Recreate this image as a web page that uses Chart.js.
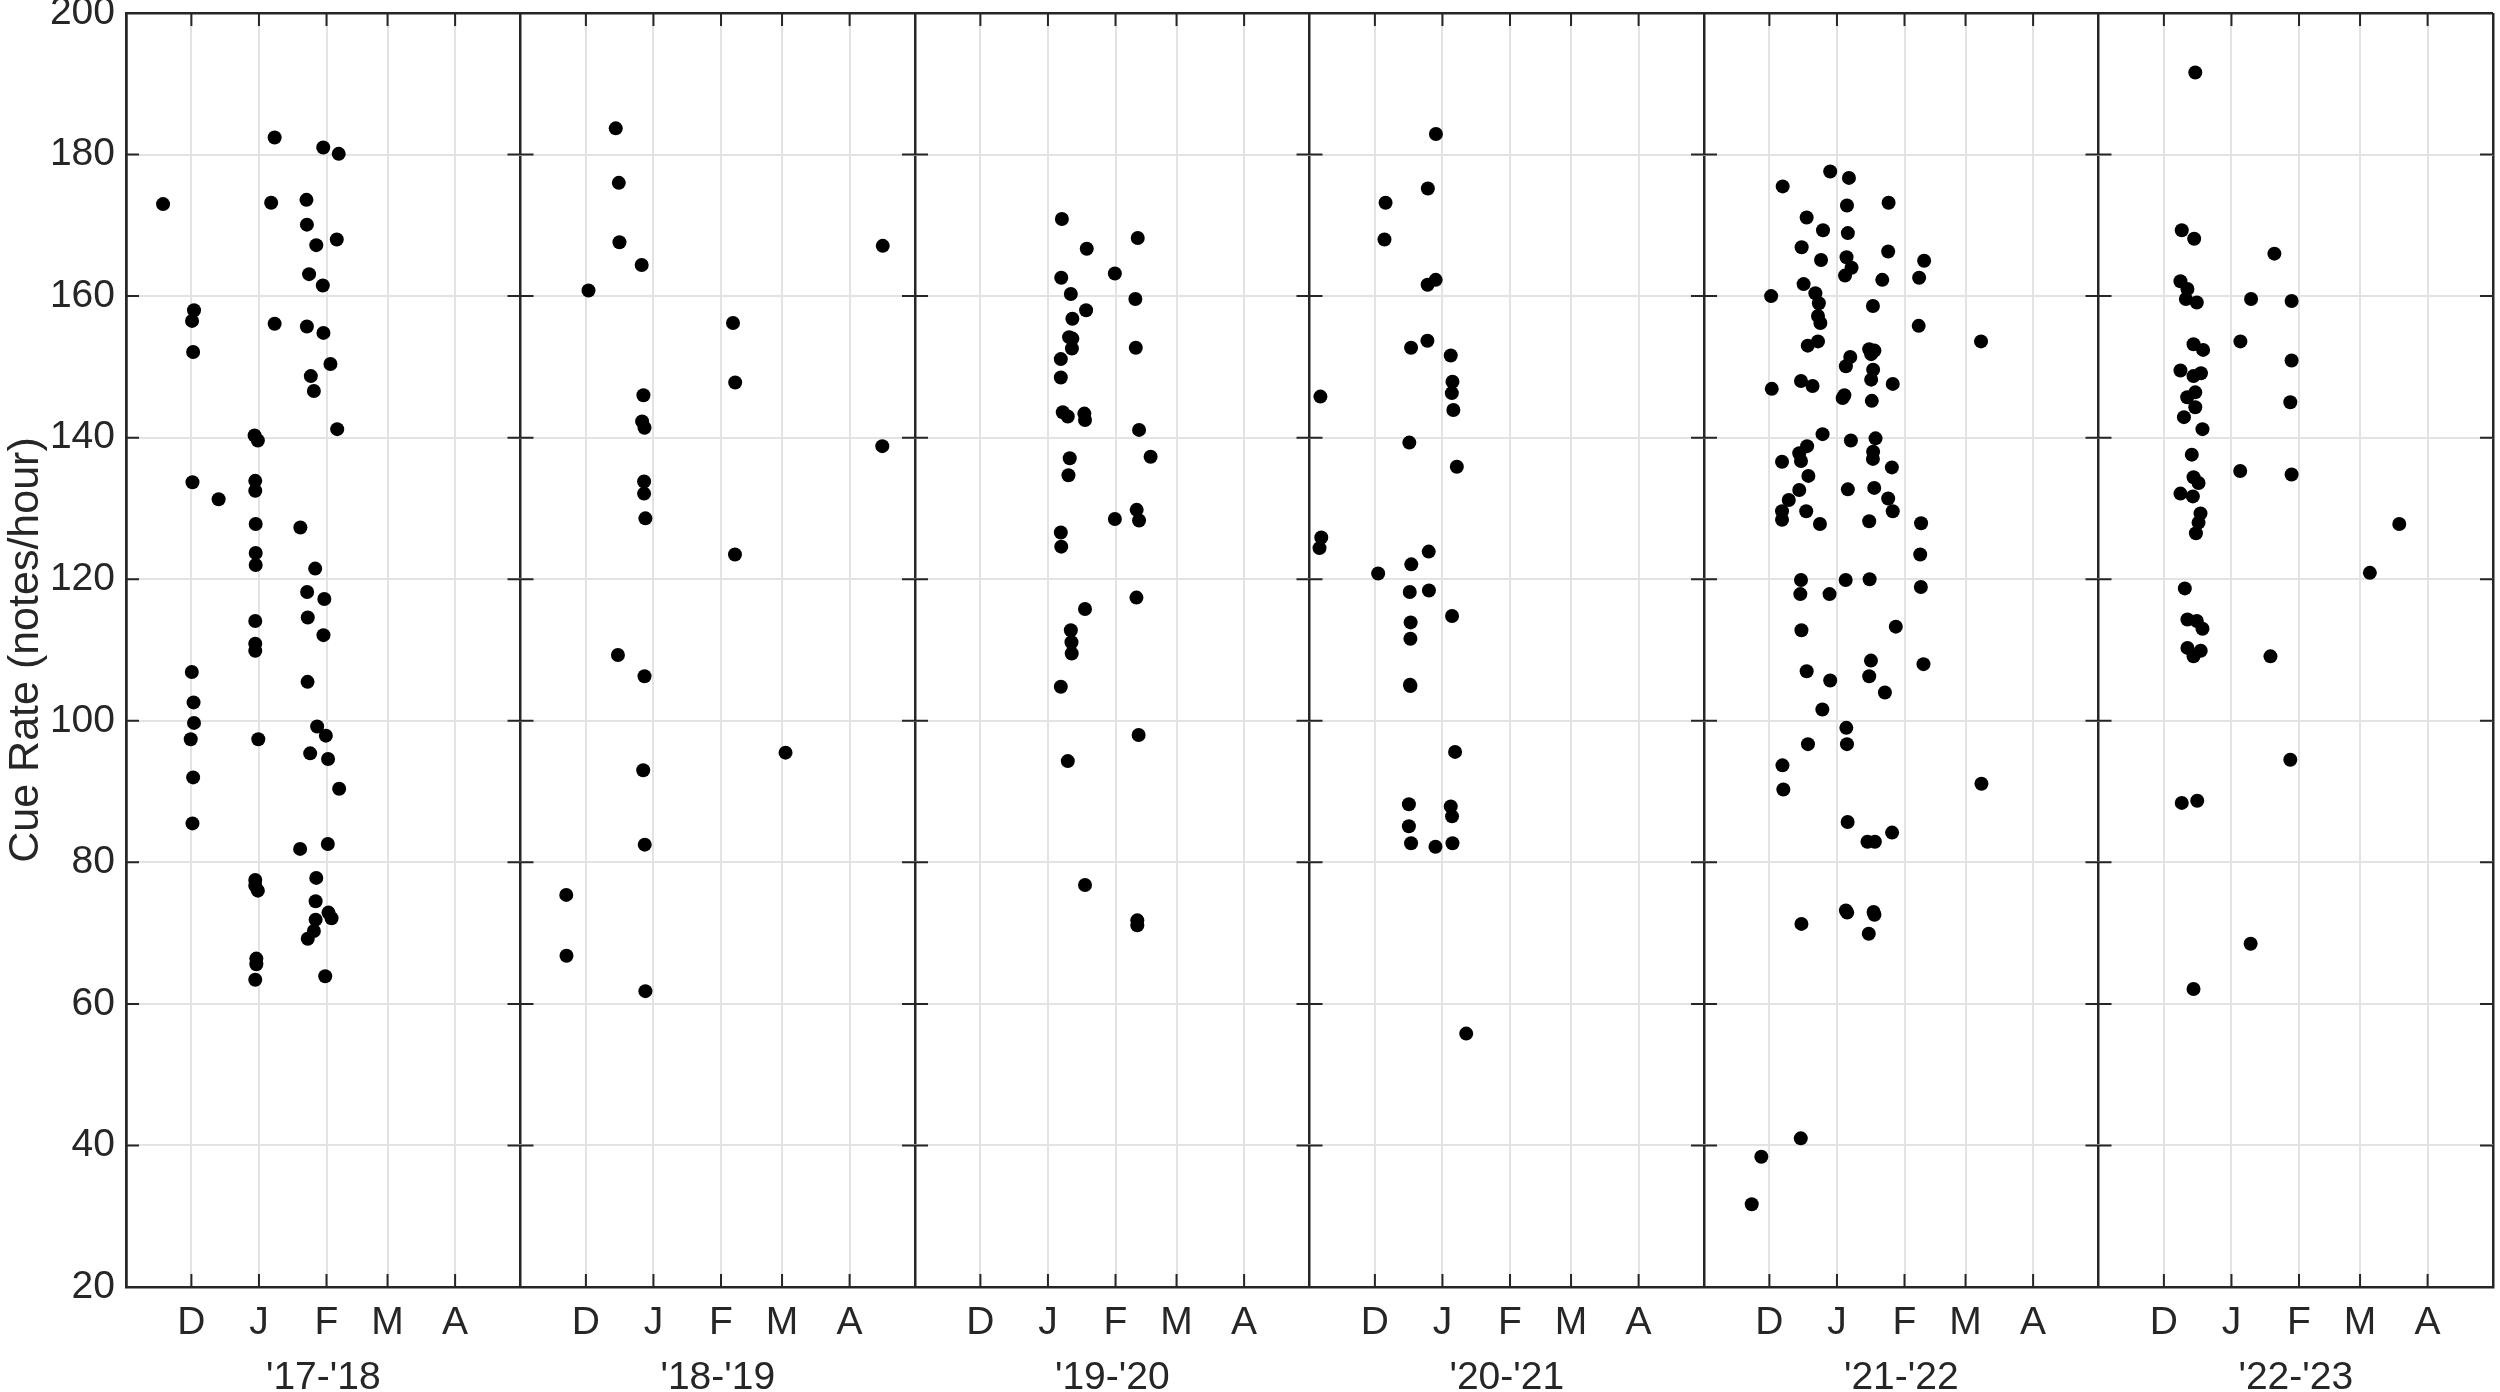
<!DOCTYPE html>
<html>
<head>
<meta charset="utf-8">
<script src="https://cdn.jsdelivr.net/npm/chart.js@4.4.1/dist/chart.umd.min.js"></script>
<style>
  html, body { margin: 0; padding: 0; background: #fff; }
  canvas { display: block; }
</style>
</head>
<body>
<canvas id="myChart" width="2500" height="1392"></canvas>
<script>
var seasons = ["'17-'18", "'18-'19", "'19-'20", "'20-'21", "'21-'22", "'22-'23"];
var monthDays = [30, 61, 92, 120, 151];
var monthLabels = ['D', 'J', 'F', 'M', 'A'];
var seasonLength = 181;
var yTicks = [20, 40, 60, 80, 100, 120, 140, 160, 180, 200];

// day of season (days since 1 Nov) and cue rate, one pair of arrays per season
var days1718 = [68.2, 90.5, 97.6, 17, 66.6, 82.8, 83, 87.3, 96.7, 84, 90.3, 31.2, 30.3, 30.8, 68.2, 83, 90.6, 93.8, 84.8, 86.2, 96.9, 59, 60.5, 30.5, 42.5, 59.3, 59.3, 59.5, 80, 59.5, 59.5, 86.8, 83.1, 91, 83.4, 90.6, 59.3, 59.3, 59.3, 30.2, 31, 31.2, 29.7, 60.7, 83.3, 87.7, 91.7, 84.5, 92.7, 97.8, 30.8, 30.5, 79.9, 92.6, 59.3, 59.3, 60.5, 87.3, 87, 92.9, 94.3, 87, 86.2, 83.4, 59.8, 59.8, 59.3, 91.4];
var rates1718 = [182.4, 181.0, 180.1, 173.0, 173.2, 173.6, 170.1, 167.2, 168.0, 163.1, 161.5, 158.0, 156.5, 152.1, 156.1, 155.7, 154.8, 150.4, 148.7, 146.6, 141.2, 140.3, 139.6, 133.7, 131.3, 133.9, 132.5, 127.8, 127.3, 123.7, 122.0, 121.5, 118.2, 117.2, 114.6, 112.1, 114.1, 110.9, 109.9, 106.9, 102.6, 99.7, 97.4, 97.4, 105.5, 99.2, 97.9, 95.4, 94.6, 90.4, 92.0, 85.5, 81.9, 82.6, 77.5, 76.7, 76.0, 77.8, 74.5, 72.9, 72.1, 71.9, 70.3, 69.2, 66.4, 65.6, 63.4, 63.9];

var days1819 = [43.7, 45.1, 45.4, 55.6, 31.2, 166.2, 97.5, 98.5, 56.4, 55.8, 56.9, 166, 56.7, 56.7, 57.3, 98.4, 44.7, 56.9, 121.6, 56.3, 57, 21, 21.1, 57.3];
var rates1819 = [183.7, 176.0, 167.6, 164.4, 160.8, 167.1, 156.2, 147.8, 146.0, 142.3, 141.4, 138.8, 133.8, 132.1, 128.6, 123.5, 109.3, 106.3, 95.5, 93.0, 82.5, 75.4, 66.8, 61.8];

var days1920 = [67.4, 78.8, 102.2, 91.7, 67.1, 71.5, 101.1, 78.5, 72.2, 70.7, 72.2, 72, 66.9, 101.3, 66.9, 67.8, 70.1, 77.7, 78, 102.8, 108.1, 71, 70.4, 91.7, 101.7, 102.8, 66.9, 67.1, 101.6, 78, 71.5, 71.8, 71.9, 66.9, 102.6, 70.1, 78, 102, 102];
var rates1920 = [170.9, 166.7, 168.2, 163.2, 162.6, 160.3, 159.6, 158.0, 156.8, 154.2, 154.0, 152.6, 151.1, 152.7, 148.5, 143.6, 143.0, 143.4, 142.5, 141.1, 137.3, 137.1, 134.7, 128.5, 129.8, 128.3, 126.6, 124.6, 117.4, 115.8, 112.8, 111.1, 109.5, 104.8, 98.0, 94.3, 76.8, 71.8, 71.1];

var days2021 = [58, 54.3, 34.9, 34.4, 54.2, 57.9, 46.6, 54.1, 64.8, 65.6, 65.3, 66, 5, 45.8, 67.6, 5.4, 4.6, 54.7, 46.7, 31.5, 46, 54.8, 65.4, 46.4, 46.3, 46.1, 46.3, 66.8, 45.6, 64.8, 65.4, 45.6, 46.6, 57.8, 65.6, 71.9];
var rates2021 = [182.9, 175.2, 173.2, 168.0, 161.6, 162.3, 152.7, 153.7, 151.6, 147.9, 146.3, 143.9, 145.8, 139.3, 135.9, 125.9, 124.4, 123.9, 122.1, 120.8, 118.2, 118.4, 114.8, 113.9, 111.6, 105.1, 104.9, 95.6, 88.2, 87.9, 86.5, 85.1, 82.7, 82.2, 82.7, 55.8];

var days2122 = [57.9, 66.5, 36.1, 65.6, 84.7, 47.1, 54.6, 66, 44.8, 53.7, 65.4, 67.7, 64.7, 84.5, 101, 98.7, 81.8, 45.7, 30.8, 51.1, 52.7, 52.3, 53.4, 77.5, 98.5, 127.1, 47.6, 52.3, 75.8, 78.2, 76.7, 67.1, 65.1, 77.6, 76.7, 86.6, 44.5, 49.8, 31.1, 64.4, 63.6, 77, 54.4, 67.4, 78.7, 77.6, 77.5, 86.2, 47.3, 43.7, 44.5, 35.8, 47.9, 43.7, 66, 78.1, 84.5, 86.6, 38.9, 35.8, 35.8, 46.9, 53.2, 75.8, 99.6, 99.2, 44.5, 44.2, 65, 76, 57.6, 99.5, 44.7, 88, 76.6, 75.8, 100.7, 47.1, 57.9, 83, 54.3, 65.3, 65.6, 47.7, 36, 36.4, 127.3, 65.9, 86.3, 75, 78.4, 44.7, 65.1, 65.7, 77.8, 78.2, 75.6, 44.4, 26.3, 21.9];
var rates2122 = [177.6, 176.7, 175.5, 172.8, 173.2, 171.1, 169.3, 168.9, 166.9, 165.1, 165.5, 164.0, 162.9, 166.3, 165.0, 162.6, 162.3, 161.7, 160.0, 160.4, 159.0, 157.2, 156.2, 158.6, 155.8, 153.6, 153.0, 153.6, 152.5, 152.3, 151.8, 151.4, 150.1, 149.6, 148.2, 147.6, 148.0, 147.3, 146.9, 146.0, 145.6, 145.2, 140.5, 139.6, 139.9, 138.0, 137.0, 135.8, 138.8, 137.8, 136.7, 136.6, 134.6, 132.6, 132.7, 132.9, 131.4, 129.6, 131.2, 129.6, 128.4, 129.6, 127.8, 128.2, 127.9, 123.5, 119.9, 117.9, 119.9, 120.0, 117.9, 118.9, 112.8, 113.3, 108.5, 106.3, 108.0, 107.0, 105.7, 104.0, 101.6, 99.0, 96.7, 96.7, 93.7, 90.3, 91.1, 85.7, 84.2, 82.9, 82.9, 71.3, 73.2, 72.9, 73.0, 72.6, 69.9, 41.0, 38.4, 31.7];

var days2223 = [44.4, 38.2, 43.9, 80.7, 37.6, 40.8, 40.1, 45.1, 70, 88.6, 65.1, 43.6, 48, 88.6, 37.6, 43.6, 47, 44.4, 40.7, 44.4, 39.2, 88, 47.7, 42.8, 65, 88.6, 43.6, 45.9, 37.6, 43.3, 46.8, 45.9, 44.7, 138, 124.5, 39.6, 40.8, 45.1, 47.7, 40.8, 46.9, 43.6, 78.9, 88, 38.2, 45.3, 69.8, 43.6];
var rates2223 = [191.6, 169.3, 168.1, 166.0, 162.1, 161.0, 159.6, 159.1, 159.6, 159.3, 153.6, 153.2, 152.4, 150.9, 149.5, 148.7, 149.1, 146.4, 145.7, 144.3, 142.9, 145.0, 141.2, 137.6, 135.3, 134.8, 134.4, 133.6, 132.1, 131.7, 129.3, 128.0, 126.5, 127.8, 120.9, 118.7, 114.3, 114.1, 113.0, 110.3, 109.9, 109.1, 109.1, 94.5, 88.4, 88.7, 68.5, 62.1];

var seasonDays = [days1718, days1819, days1920, days2021, days2122, days2223];
var seasonRates = [rates1718, rates1819, rates1920, rates2021, rates2122, rates2223];

var axisColor = '#262626';
var gridColor = '#e3e3e3';
var fontFamily = '"Liberation Sans", Arial, Helvetica, sans-serif';

// all seasons side by side on one axis, each season shifted by one season length
var points = [];
seasonDays.forEach(function(days, i) {
    days.forEach(function(d, j) {
        points.push({x: i * seasonLength + d, y: seasonRates[i][j]});
    });
});

var boundaryValues = [];
var monthTickValues = [];
var monthTickText = {};
var seasonCenters = [];
var seasonText = {};
for (var i = 0; i <= seasons.length; i++) {
    boundaryValues.push(i * seasonLength);
}
seasons.forEach(function(s, i) {
    monthDays.forEach(function(d, k) {
        monthTickValues.push(i * seasonLength + d);
        monthTickText[i * seasonLength + d] = monthLabels[k];
    });
    var c = i * seasonLength + seasonLength / 2;
    seasonCenters.push(c);
    seasonText[c] = s;
});
var xTickValues = boundaryValues.concat(monthTickValues).sort(function(a, b) { return a - b; });
var xMax = seasons.length * seasonLength;

function isBoundary(v) {
    return boundaryValues.indexOf(v) !== -1;
}

function noEdgePadding(scale) {
    scale.paddingTop = 0;
    scale.paddingBottom = 0;
    scale.paddingLeft = 0;
    scale.paddingRight = 0;
}

var tickMarks = {
    id: 'tickMarks',
    afterDraw: function(chart) {
        var ctx = chart.ctx;
        var area = chart.chartArea;
        var xs = chart.scales.x;
        var ys = chart.scales.y;
        var len = 13;
        ctx.save();
        ctx.strokeStyle = axisColor;
        ctx.lineWidth = 2;
        ctx.beginPath();
        monthTickValues.forEach(function(v) {
            var px = xs.getPixelForValue(v);
            ctx.moveTo(px, area.bottom);
            ctx.lineTo(px, area.bottom - len);
            ctx.moveTo(px, area.top);
            ctx.lineTo(px, area.top + len);
        });
        boundaryValues.forEach(function(v) {
            var px = xs.getPixelForValue(v);
            yTicks.forEach(function(t) {
                var py = ys.getPixelForValue(t);
                ctx.moveTo(Math.max(area.left, px - len), py);
                ctx.lineTo(Math.min(area.right, px + len), py);
            });
        });
        ctx.stroke();
        ctx.restore();
    }
};

var tickFont = {family: fontFamily, size: 39};

var ctx = document.getElementById('myChart');
var myChart = new Chart(ctx, {
    type: 'scatter',
    data: {
        datasets: [{
            data: points,
            backgroundColor: '#000000',
            borderWidth: 0,
            pointRadius: 7,
            pointHoverRadius: 7
        }]
    },
    options: {
        responsive: false,
        devicePixelRatio: 1,
        animation: false,
        layout: {padding: {top: 13, right: 2, left: 0, bottom: 0}},
        plugins: {
            legend: {display: false},
            tooltip: {enabled: false}
        },
        scales: {
            x: {
                type: 'linear',
                position: 'bottom',
                min: 0,
                max: xMax,
                weight: 0,
                afterBuildTicks: function(scale) {
                    scale.ticks = xTickValues.map(function(v) { return {value: v}; });
                },
                afterFit: function(scale) { scale.height = 58; noEdgePadding(scale); },
                ticks: {
                    autoSkip: false,
                    maxRotation: 0,
                    minRotation: 0,
                    padding: 13,
                    color: axisColor,
                    font: tickFont,
                    callback: function(value) { return monthTickText[value] || ''; }
                },
                grid: {
                    drawTicks: false,
                    color: function(c) { return c.tick && isBoundary(c.tick.value) ? axisColor : gridColor; },
                    lineWidth: function(c) { return c.tick && isBoundary(c.tick.value) ? 2.5 : 2; }
                },
                border: {color: axisColor, width: 2.5}
            },
            x2: {
                type: 'linear',
                position: 'bottom',
                min: 0,
                max: xMax,
                weight: 1,
                afterBuildTicks: function(scale) {
                    scale.ticks = seasonCenters.map(function(v) { return {value: v}; });
                },
                afterFit: function(scale) { scale.height = 47; noEdgePadding(scale); },
                ticks: {
                    autoSkip: false,
                    maxRotation: 0,
                    minRotation: 0,
                    padding: 10,
                    color: axisColor,
                    font: tickFont,
                    callback: function(value) { return seasonText[value] || ''; }
                },
                grid: {display: false, drawTicks: false},
                border: {display: false}
            },
            y: {
                min: 20,
                max: 200,
                afterBuildTicks: function(scale) {
                    scale.ticks = yTicks.map(function(v) { return {value: v}; });
                },
                afterFit: function(scale) { scale.width = 126; noEdgePadding(scale); },
                ticks: {
                    padding: 11,
                    color: axisColor,
                    font: tickFont
                },
                grid: {
                    drawTicks: false,
                    color: function(c) { return c.tick && c.tick.value === 200 ? axisColor : gridColor; },
                    lineWidth: function(c) { return c.tick && c.tick.value === 200 ? 2.5 : 2; }
                },
                border: {color: axisColor, width: 2.5},
                title: {
                    display: true,
                    text: 'Cue Rate (notes/hour)',
                    color: axisColor,
                    font: {family: fontFamily, size: 43, lineHeight: 1},
                    padding: {top: 5, bottom: 0}
                }
            }
        }
    },
    plugins: [tickMarks]
});
</script>
</body>
</html>
